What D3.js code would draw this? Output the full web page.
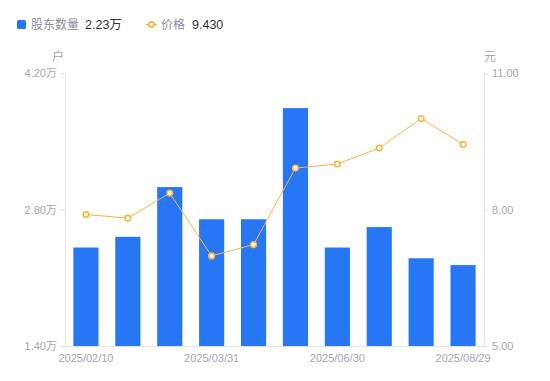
<!DOCTYPE html>
<html><head><meta charset="utf-8">
<script src="https://cdn.jsdelivr.net/npm/d3@7"></script>
<style>
html,body{margin:0;padding:0;background:#fff;}
svg{display:block;font-family:"Liberation Sans","Noto Sans CJK SC",sans-serif;}
</style></head>
<body>
<svg id="chart" width="550" height="381"></svg>
<script>
const dates = ["2025/02/10","2025/02/28","2025/03/10","2025/03/31","2025/04/30","2025/05/20","2025/06/30","2025/07/10","2025/07/31","2025/08/29"];
const holders = [2.41, 2.52, 3.03, 2.70, 2.70, 3.84, 2.41, 2.62, 2.30, 2.23];
const prices = [7.89, 7.81, 8.36, 6.98, 7.23, 8.91, 9.00, 9.35, 10.00, 9.43];
const leftTicks = [1.40, 2.80, 4.20];
const rightTicks = [5.00, 8.00, 11.00];
const shownDates = ["2025/02/10","2025/03/31","2025/06/30","2025/08/29"];

(function(){
const svg = d3.select("#chart");
const pL = 65, pR = 484, pT = 73, pB = 346;
const blue = "#2777f4", orange = "#fbb23f", axisCol = "#e2e3e8", tickTxt = "#a4a6b3";
const numFont = '"Liberation Sans","Noto Sans CJK SC",sans-serif';
const cjkFont = '"Noto Sans CJK SC",sans-serif';

const x = d3.scaleBand().domain(dates).range([pL, pR]).paddingInner(0.4).paddingOuter(0.2);
const yL = d3.scaleLinear().domain([1.40, 4.20]).range([pB, pT]);
const yR = d3.scaleLinear().domain([5, 11]).range([pB, pT]);

// bars
svg.append("g").selectAll("rect").data(holders).join("rect")
  .attr("x", (d,i) => x(dates[i]))
  .attr("width", x.bandwidth())
  .attr("y", d => yL(d))
  .attr("height", d => pB - yL(d))
  .attr("fill", blue);

// axes
const gL = svg.append("g").attr("transform", `translate(${pL},0)`)
  .call(d3.axisLeft(yL).tickValues(leftTicks).tickSize(5).tickPadding(3).tickFormat(d => d.toFixed(2) + "万"));
const gR = svg.append("g").attr("transform", `translate(${pR},0)`)
  .call(d3.axisRight(yR).tickValues(rightTicks).tickSize(4).tickPadding(4).tickFormat(d => d.toFixed(2)));
const gB = svg.append("g").attr("transform", `translate(0,${pB})`)
  .call(d3.axisBottom(x).tickValues(shownDates).tickSize(0).tickPadding(8));
[gL, gR, gB].forEach(g => {
  g.select(".domain").attr("stroke", axisCol);
  g.selectAll(".tick line").attr("stroke", axisCol);
  g.selectAll("text").attr("fill", tickTxt).style("font-size", "11px").style("font-family", numFont);
});
gB.select(".domain").attr("d", `M${pL-5},0.5H${pR+4}`);

// unit labels
svg.append("text").attr("x", 58).attr("y", 61).attr("text-anchor", "middle").attr("fill", tickTxt)
  .style("font-size", "12px").style("font-family", cjkFont).text("户");
svg.append("text").attr("x", 490).attr("y", 61).attr("text-anchor", "middle").attr("fill", tickTxt)
  .style("font-size", "12px").style("font-family", cjkFont).text("元");

// line
const line = d3.line().x((d,i) => x(dates[i]) + x.bandwidth()/2).y(d => yR(d));
svg.append("path").datum(prices).attr("d", line).attr("fill", "none").attr("stroke", orange).attr("stroke-width", 1);
svg.append("g").selectAll("circle").data(prices).join("circle")
  .attr("cx", (d,i) => x(dates[i]) + x.bandwidth()/2)
  .attr("cy", d => yR(d))
  .attr("r", 2.8)
  .attr("fill", "#fff").attr("stroke", orange).attr("stroke-width", 1.6);

// legend
const lg = svg.append("g");
lg.append("rect").attr("x", 17).attr("y", 20).attr("width", 9).attr("height", 9).attr("rx", 1.5).attr("fill", blue);
lg.append("text").attr("x", 31).attr("y", 29).attr("fill", "#8b8e9a").style("font-size", "12px").style("font-family", cjkFont).text("股东数量");
lg.append("text").attr("x", 85).attr("y", 29).attr("fill", "#333").style("font-size", "12.5px").style("font-family", numFont).text(holders[holders.length-1].toFixed(2) + "万");
lg.append("line").attr("x1", 146).attr("x2", 157).attr("y1", 24.5).attr("y2", 24.5).attr("stroke", orange).attr("stroke-width", 1.5);
lg.append("circle").attr("cx", 151.5).attr("cy", 24.5).attr("r", 2.6).attr("fill", "#fff").attr("stroke", orange).attr("stroke-width", 1.6);
lg.append("text").attr("x", 161).attr("y", 29).attr("fill", "#8b8e9a").style("font-size", "12px").style("font-family", cjkFont).text("价格");
lg.append("text").attr("x", 192).attr("y", 29).attr("fill", "#333").style("font-size", "12.5px").style("font-family", numFont).text(prices[prices.length-1].toFixed(3));
})();
</script>
</body></html>
